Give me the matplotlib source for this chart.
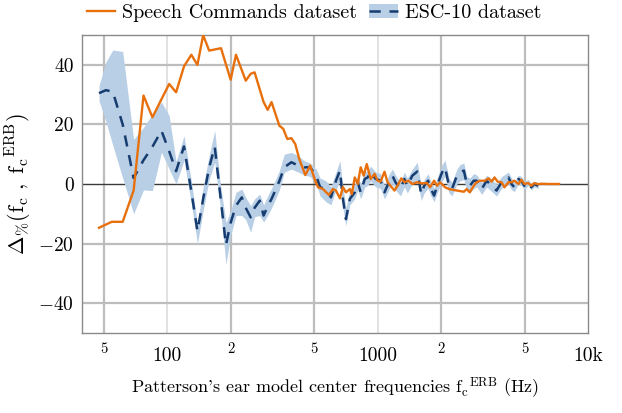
import numpy as np
import matplotlib
matplotlib.use("Agg")
import matplotlib.pyplot as plt
from matplotlib.patches import Patch
from matplotlib.lines import Line2D

plt.rcParams['font.family'] = 'cmr10'
plt.rcParams['mathtext.fontset'] = 'cm'
plt.rcParams['axes.unicode_minus'] = False

# Speech Commands: relative deviation per filter centre frequency (Hz)
speech_freq = [47.3, 54.4, 61.3, 69.1, 77.0, 84.9, 102, 110, 120, 130, 139, 148, 158, 180,
               200, 212, 236, 249, 260, 287, 300, 313, 341, 356, 372, 389, 406, 424, 453,
               478, 505, 521, 550, 587, 613, 634, 662, 684, 707, 738, 754, 779, 805, 831,
               859, 888, 927, 968, 1000, 1033, 1079, 1115, 1152, 1203, 1243, 1298, 1341,
               1401, 1463, 1545, 1631, 1721, 1778, 1857, 1919, 1982, 2094, 2186, 2385,
               2573, 2658, 2746, 2868, 2963, 3061, 3232, 3375, 3487, 3603, 3722, 3887,
               4016, 4194, 4334, 4477, 4676, 4831, 4991, 5212, 5385, 5563, 5810, 6002,
               6477, 7298]
speech_val = [-14.7, -12.7, -12.7, -2.2, 29.7, 22.4, 33.6, 30.8, 39.5, 43.4, 40.0, 50.0, 44.8,
              45.6, 35.0, 43.4, 34.7, 37.0, 37.5, 27.5, 24.9, 27.5, 19.6, 18.5, 15.1, 15.4,
              13.4, 8.4, 3.0, 6.2, 1.1, -1.1, -1.7, -3.7, -1.7, -2.2, -4.8, -1.0, -2.8, -1.7,
              -3.4, 2.2, 0.0, 5.6, 2.8, 6.7, 1.7, 3.4, 1.1, 0.8, 4.1, 0.6, -0.6, -2.2, -0.6,
              1.9, 0.6, 1.1, 0.0, 0.6, 0.2, 0.3, -1.1, 1.1, -0.6, 0.6, -1.1, -1.7, -2.2,
              -2.6, -1.7, -2.8, -0.6, 0.6, 1.1, 1.1, 1.9, 0.8, 2.2, 0.8, 0.6, -1.1, 0.6, 0.6,
              1.1, 0.0, 1.4, 0.0, 0.3, -0.6, 0.3, -0.1, 0.1, 0.0, 0.0]

# ESC-10: mean deviation and its spread
esc_freq = [47.3, 51.0, 55.0, 61.3, 69.1, 77.0, 84.9, 93.7, 102, 110, 120, 130, 139, 148,
            158, 168, 178, 190, 200, 212, 226, 236, 249, 260, 275, 287, 300, 313, 327, 341,
            360, 389, 419, 448, 478, 510, 533, 569, 600, 634, 662, 684, 707, 738, 779, 805,
            831, 869, 897, 927, 979, 1033, 1079, 1139, 1177, 1216, 1284, 1341, 1385, 1463,
            1545, 1613, 1666, 1740, 1778, 1857, 1919, 2026, 2094, 2186, 2258, 2385, 2464,
            2573, 2658, 2746, 2868, 2963, 3128, 3303, 3487, 3681, 3887, 4194, 4334, 4477,
            4676, 4831, 4991, 5212, 5385, 5563, 5810]
esc_val = [30.5, 31.5, 31.0, 20.0, 2.0, 8.0, 12.5, 17.9, 11.0, 4.3, 12.6, -2.5, -15.8, -5.0,
           5.5, 12.5, -3.0, -20.5, -13.0, -7.3, -4.5, -8.0, -11.2, -8.0, -5.6, -10.6, -7.5,
           -5.0, -2.0, 1.0, 5.6, 7.3, 6.2, 5.6, 5.6, 2.8, -1.1, -1.7, -4.5, 1.1, 4.5, -5.0,
           -11.8, -5.0, -2.8, 0.6, -2.8, 1.7, 2.2, 3.9, 1.7, 1.1, -2.8, 1.1, 2.8, 0.6, -1.7,
           1.7, -0.6, 2.8, 4.2, -3.4, -0.6, 1.1, -1.0, -3.9, -0.6, 3.9, 5.6, -0.6, -1.7, 2.8,
           3.9, 4.5, 0.0, -0.6, 1.1, 1.1, -1.7, 1.1, -0.6, -2.2, 0.6, 2.2, 0.0, -1.1, 1.7,
           1.1, -0.6, 0.5, -1.1, 0.0, -0.6]
esc_lo = [28.0, 21.0, 13.0, 2.0, -10.0, -2.0, -2.2, 10.7, 5.0, 0.0, 8.0, -6.5, -20.0, -9.0,
          1.5, 7.3, -7.0, -27.0, -17.4, -10.6, -10.6, -12.0, -16.2, -11.0, -10.6, -12.8,
          -10.5, -8.0, -5.0, -2.0, 4.0, 5.0, 4.0, 3.0, 2.5, 0.0, -4.0, -6.0, -7.0, -2.0,
          1.0, -8.0, -14.0, -7.0, -5.0, -2.0, -5.0, -1.0, -0.5, 1.0, -1.0, -1.5, -5.0, -1.5,
          0.0, -2.0, -4.0, -1.0, -3.0, 0.0, 1.5, -5.6, -3.0, -1.5, -3.5, -6.0, -3.0, 1.0,
          2.5, -3.0, -4.0, 0.0, 1.0, 1.5, -2.5, -3.0, -1.5, -1.0, -3.5, -1.0, -2.5, -4.0,
          -1.5, 0.0, -2.0, -2.5, 0.0, -0.5, -2.0, -0.5, -2.0, -1.0, -1.5]
esc_hi = [33.0, 41.0, 45.0, 44.5, 15.0, 19.0, 23.5, 27.5, 23.0, 7.5, 16.2, 1.0, -13.5, -1.0,
          9.5, 18.0, 1.0, -13.0, -9.0, -2.8, -1.7, -4.5, -7.3, -5.0, -3.4, -7.0, -4.0,
          -1.5, 1.5, 4.5, 10.0, 10.6, 9.5, 7.8, 7.0, 5.0, 2.0, 1.0, -1.0, 4.0, 7.8, -1.0,
          -8.0, -2.0, 0.0, 3.0, 0.0, 4.0, 4.5, 6.0, 4.0, 3.5, -0.5, 3.5, 5.0, 3.0, 0.5,
          4.0, 2.0, 5.0, 7.3, -1.0, 1.5, 3.5, 1.5, -1.5, 2.0, 6.5, 8.0, 2.0, 0.5, 5.0,
          6.5, 7.0, 2.5, 2.0, 3.5, 3.0, 0.5, 3.0, 1.5, 0.0, 2.5, 4.0, 2.0, 0.5, 3.0, 2.5,
          1.0, 1.5, 0.0, 1.0, 0.5]

orange = '#e8700c'
navy = '#163c70'
band = '#b8cfe6'

fig = plt.figure(figsize=(6.22, 4.13), dpi=100)
ax = fig.add_axes([0.132, 0.194, 0.813, 0.721])

ax.set_xscale('log')
ax.set_xlim(39.3, 10000)
ax.set_ylim(-50, 50)

# grid: decade lines light, 2/5 lines darker
for f in [100, 1000]:
    ax.axvline(f, color='#dedede', lw=1.3, zorder=0)
for f in [50, 200, 500, 2000, 5000]:
    ax.axvline(f, color='#bdbdbd', lw=1.6, zorder=0)
for y in [-40, -20, 20, 40]:
    ax.axhline(y, color='#bdbdbd', lw=1.6, zorder=0)
ax.axhline(0, color='#3a3a3a', lw=1.0, zorder=1)

ax.fill_between(esc_freq, esc_lo, esc_hi, color=band, lw=0, zorder=2)
ax.plot(esc_freq, esc_val, color=navy, lw=1.8, dashes=(4.5, 3.5), zorder=3)
ax.plot(speech_freq, speech_val, color=orange, lw=1.7, zorder=4)

ax.set_xticks([100, 1000, 10000])
ax.set_xticklabels(['100', '1000', '10k'], fontsize=14)
ax.set_xticks([50, 200, 500, 2000, 5000], minor=True)
ax.set_xticklabels(['5', '2', '5', '2', '5'], minor=True, fontsize=10.5)
ax.tick_params(axis='x', which='major', length=0, pad=10)
ax.tick_params(axis='x', which='minor', length=0, pad=7)
ax.set_yticks([-40, -20, 0, 20, 40])
ax.set_yticklabels(['$-40$', '$-20$', '0', '20', '40'], fontsize=14)
ax.tick_params(axis='y', length=0, pad=6)

for s in ax.spines.values():
    s.set_color('#8a8a8a')
    s.set_linewidth(1.0)

ax.set_xlabel(r"Patterson's ear model center frequencies $\mathrm{f_c}^{\mathrm{ERB}}$ (Hz)",
              fontsize=13, labelpad=8)
ax.set_ylabel(r'$\Delta_{\%}(\mathrm{f_c}\ ,\ \mathrm{f_c}^{\mathrm{ERB}})$', fontsize=16,
              labelpad=3)

handles = [Line2D([], [], color=orange, lw=1.7),
           (Patch(color=band, lw=0), Line2D([], [], color=navy, lw=1.8, dashes=(4.5, 3.5)))]
fig.legend(handles, ['Speech Commands dataset', 'ESC-10 dataset'], loc='center',
           bbox_to_anchor=(0.505, 0.968), ncol=2, frameon=False, fontsize=14.5,
           handlelength=1.4, handletextpad=0.35, columnspacing=0.6)

fig.savefig('out.png', dpi=100)
